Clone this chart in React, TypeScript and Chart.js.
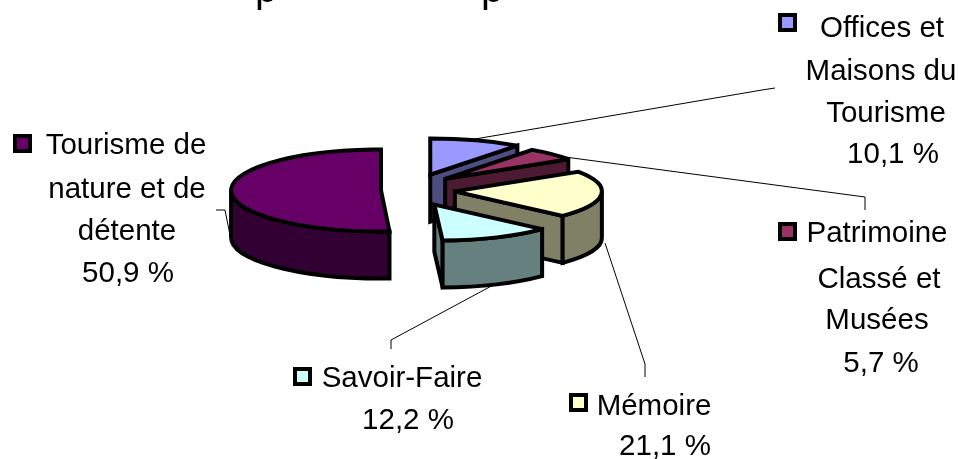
import React, { useEffect, useRef } from "react";
import { Chart, registerables } from "chart.js";

Chart.register(...registerables);

const categories = ["Offices et Maisons du Tourisme", "Patrimoine Classé et Musées", "Mémoire", "Savoir-Faire", "Tourisme de nature et de détente"];
const shares = [10.1, 5.7, 21.1, 12.2, 50.9];
const topColors = ["#9999FF", "#993366", "#FFFFCC", "#CCFFFF", "#660066"];
const sideColors = ["#4D4D80", "#4D1A33", "#808066", "#668080", "#330033"];
const labelLines = [
  ["Offices et", "Maisons du", "Tourisme", "10,1 %"],
  ["Patrimoine", "Classé et", "Musées", "5,7 %"],
  ["Mémoire", "21,1 %"],
  ["Savoir-Faire", "12,2 %"],
  ["Tourisme de", "nature et de", "détente", "50,9 %"],
];
const clippedTitleGlyphs = ["p", "p"];

const RADIUS = 147;
const SQUASH = 0.245;
const EXPLODE = 36;
const EXPLODE_SQUASH = 0.45;
const DEPTH = 47;
const FONT = '29.5px "Liberation Sans", Arial, sans-serif';
const TITLE_FONT = '40px "Liberation Sans", Arial, sans-serif';
const TITLE_GLYPH_X = [255, 481];

type Lbl = { xs: number[]; ys: number[]; key: [number, number]; leader: [number, number][] };
const labelLayout: Lbl[] = [
  { xs: [882, 881, 886, 893], ys: [37, 80, 122, 163], key: [778, 13], leader: [[475, 139], [762, 90], [775, 88]] },
  { xs: [877, 879, 877, 881], ys: [242, 288, 329, 372], key: [778, 222], leader: [[565, 157], [865, 197], [865, 210]] },
  { xs: [654, 665], ys: [415, 455], key: [569, 393], leader: [[605, 243], [645, 364], [645, 377]] },
  { xs: [402, 408], ys: [387, 429], key: [293, 367], leader: [[497, 283], [391, 340], [391, 349]] },
  { xs: [126, 127, 127, 128], ys: [154, 198, 240, 282], key: [13, 134], leader: [[231, 240], [225, 210], [216, 210]] },
];

const pie3d = {
  id: "pie3d",
  beforeDatasetsDraw(chart: any) {
    const ctx: CanvasRenderingContext2D = chart.ctx;
    const arcs = chart.getDatasetMeta(0).data;
    ctx.save();
    ctx.fillStyle = "#000";
    ctx.strokeStyle = "#000";
    ctx.lineWidth = 1;
    labelLayout.forEach((l) => {
      ctx.beginPath();
      l.leader.forEach(([x, y], i) => (i ? ctx.lineTo(x, y) : ctx.moveTo(x, y)));
      ctx.stroke();
    });

    ctx.lineWidth = 4;
    ctx.lineJoin = "miter";
    ctx.miterLimit = 2;
    arcs.forEach((arc: any, i: number) => {
      const { x, y, startAngle: a0, endAngle: a1 } = arc.getProps(["x", "y", "startAngle", "endAngle"], true);
      const mid = (a0 + a1) / 2;
      const big = i === 4;
      const cx = x + Math.cos(mid) * EXPLODE - (big ? 2 : 0);
      const cy = y + Math.sin(mid) * EXPLODE * EXPLODE_SQUASH;
      const rx = RADIUS * (big ? 1.02 : 1);
      const ry = RADIUS * SQUASH * (big ? 1.14 : 1);
      const px = (t: number) => cx + rx * Math.cos(t);
      const py = (t: number) => cy + ry * Math.sin(t);
      const paint = (fill: string) => {
        ctx.fillStyle = fill;
        ctx.fill();
        ctx.stroke();
      };
      // cut face, visible only when it turns towards the viewer
      if (Math.sin(a1 + Math.PI / 2) > 0.001) {
        ctx.beginPath();
        ctx.moveTo(cx, cy);
        ctx.lineTo(px(a1), py(a1));
        ctx.lineTo(px(a1), py(a1) + DEPTH);
        ctx.lineTo(cx, cy + DEPTH);
        ctx.closePath();
        paint(sideColors[i]);
      }
      // outer wall on the front half of the ellipse
      const w0 = Math.max(a0, 0);
      const w1 = Math.min(a1, Math.PI);
      if (w0 < w1) {
        ctx.beginPath();
        ctx.ellipse(cx, cy, rx, ry, 0, w0, w1);
        ctx.ellipse(cx, cy + DEPTH, rx, ry, 0, w1, w0, true);
        ctx.closePath();
        paint(sideColors[i]);
      }
      // top surface
      ctx.beginPath();
      ctx.moveTo(cx, cy);
      ctx.ellipse(cx, cy, rx, ry, 0, a0, a1);
      ctx.closePath();
      paint(topColors[i]);
    });

    // labels and colour keys
    ctx.font = FONT;
    ctx.textAlign = "center";
    ctx.textBaseline = "alphabetic";
    labelLayout.forEach((l, i) => {
      ctx.fillStyle = "#000";
      labelLines[i].forEach((t, j) => ctx.fillText(t, l.xs[j], l.ys[j]));
      ctx.fillRect(l.key[0], l.key[1], 19, 19);
      ctx.fillStyle = topColors[i];
      ctx.fillRect(l.key[0] + 4, l.key[1] + 4, 11, 11);
    });

    // the title sits above the picture: only the descenders of two letters show
    ctx.fillStyle = "#000";
    ctx.font = TITLE_FONT;
    ctx.textAlign = "left";
    clippedTitleGlyphs.forEach((g, i) => ctx.fillText(g, TITLE_GLYPH_X[i], 1.5));
    ctx.restore();
    return false;
  },
};

export default function App() {
  const ref = useRef<HTMLCanvasElement>(null);
  useEffect(() => {
    const chart = new Chart(ref.current!, {
      type: "pie",
      data: {
        labels: categories,
        datasets: [{ data: shares, backgroundColor: topColors, borderColor: "#000" }],
      },
      options: {
        responsive: false,
        animation: false,
        radius: RADIUS,
        layout: { padding: { right: 123, bottom: 79 } },
        plugins: { legend: { display: false }, tooltip: { enabled: false }, title: { display: false } },
      },
      plugins: [pie3d],
    } as any);
    return () => chart.destroy();
  }, []);
  return (
    <div style={{ position: "fixed", left: 0, top: 0, width: 961, height: 459, background: "#fff" }}>
      <canvas ref={ref} width={961} height={459} style={{ display: "block" }} />
    </div>
  );
}
